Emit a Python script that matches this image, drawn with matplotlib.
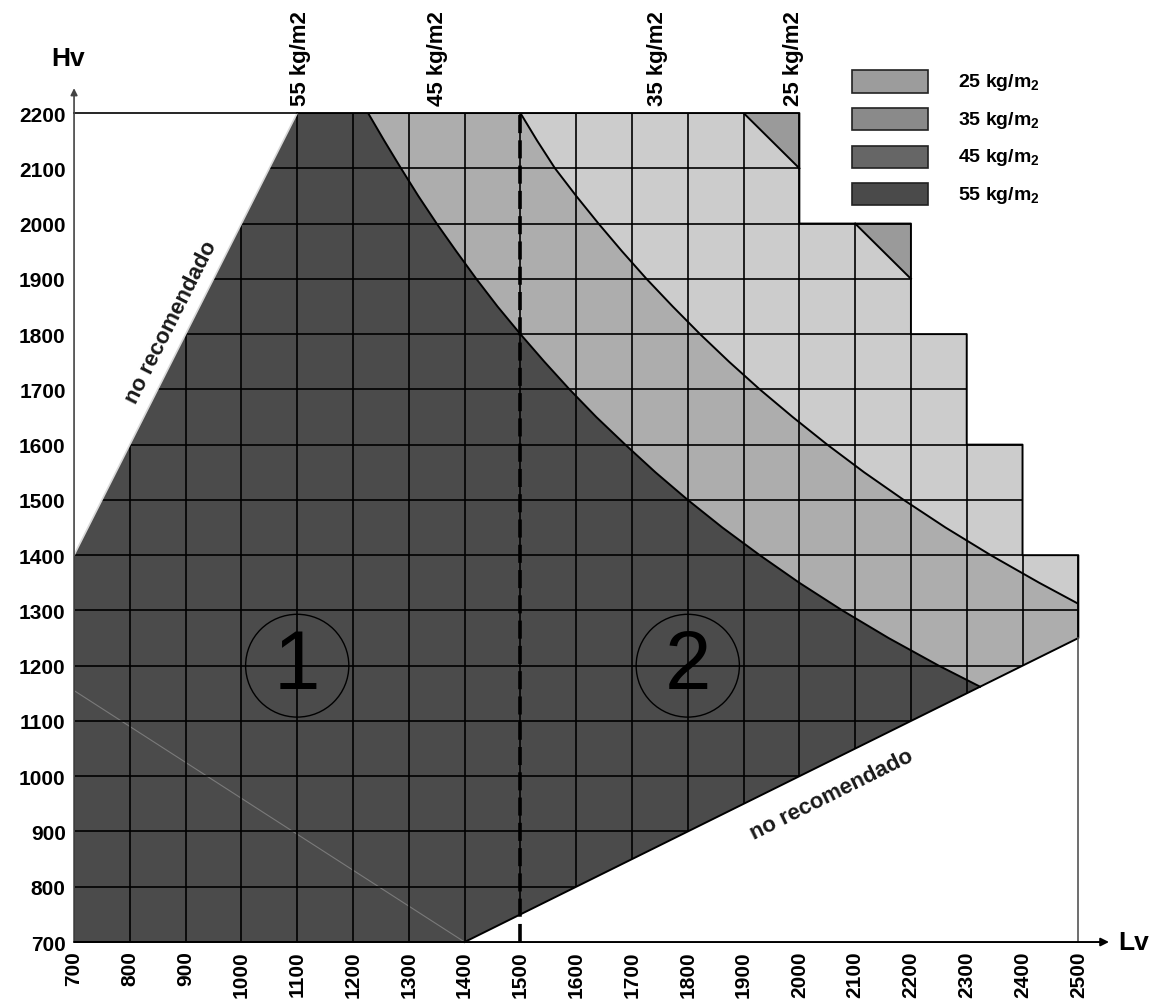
import matplotlib
matplotlib.use("Agg")
import matplotlib.pyplot as plt
from matplotlib.patches import Polygon, Ellipse, Rectangle
from matplotlib import font_manager

plt.rcParams['font.family'] = ['Liberation Sans', 'DejaVu Sans']
plt.rcParams['mathtext.fontset'] = 'custom'
plt.rcParams['mathtext.rm'] = 'Liberation Sans:bold'
plt.rcParams['mathtext.bf'] = 'Liberation Sans:bold'
plt.rcParams['mathtext.default'] = 'bf'

# ejes (Lv = largo, Hv = alto)
lv_ticks = list(range(700, 2600, 100))
hv_ticks = list(range(700, 2300, 100))

# contorno de la zona cuadriculada
zone_lv = [700, 1400, 2500, 2500, 2400, 2400, 2300, 2300, 2200, 2200, 2000, 2000, 1100, 700]
zone_hv = [700, 700, 1250, 1400, 1400, 1600, 1600, 1800, 1800, 2000, 2000, 2200, 2200, 1400]

# limite 55 / 45 kg/m2
c55_lv = [1227, 1256, 1286, 1317, 1350, 1385, 1421, 1459, 1500, 1543, 1588, 1636, 1688,
          1742, 1800, 1862, 1929, 2000, 2077, 2160, 2250, 2324]
c55_hv = [2200, 2150, 2100, 2050, 2000, 1950, 1900, 1850, 1800, 1750, 1700, 1650, 1600,
          1550, 1500, 1450, 1400, 1350, 1300, 1250, 1200, 1162]

# limite 45 / 35 kg/m2
c45_lv = [1500, 1530, 1562, 1600, 1640, 1682, 1726, 1773, 1822, 1874, 1929, 1988, 2050,
          2116, 2187, 2262, 2343, 2430, 2500]
c45_hv = [2200, 2150, 2100, 2050, 2000, 1950, 1900, 1850, 1800, 1750, 1700, 1650, 1600,
          1550, 1500, 1450, 1400, 1350, 1312]

# esquinas 25 kg/m2
tri1_lv = [1900, 2000, 2000]
tri1_hv = [2200, 2200, 2100]
tri2_lv = [2100, 2200, 2200]
tri2_hv = [2000, 2000, 1900]

# trazo fino claro dentro de la zona oscura
faint_lv = [700, 1400]
faint_hv = [1155, 700]

# etiquetas superiores
top_labels = ['55 kg/m2', '45 kg/m2', '35 kg/m2', '25 kg/m2']
top_lv = [1105, 1352, 1745, 1989]

legend_labels = ['25 kg/m$_2$', '35 kg/m$_2$', '45 kg/m$_2$', '55 kg/m$_2$']
legend_colors = ['#9c9c9c', '#8a8a8a', '#666666', '#4a4a4a']

zones = ['1', '2']
zone_center_lv = [1100, 1800]
zone_center_hv = [1200, 1200]

C_DARK = '#4b4b4b'
C_MID = '#adadad'
C_LIGHT = '#cccccc'
C_TRI = '#9a9a9a'

fig = plt.figure(figsize=(11.57, 10.03), dpi=100)
ax = fig.add_axes([0.064, 0.0598, 0.868, 0.8265])
ax.set_xlim(700, 2500)
ax.set_ylim(700, 2200)
for s in ax.spines.values():
    s.set_visible(False)

# fondo claro (35 kg/m2)
zone = Polygon(list(zip(zone_lv, zone_hv)), closed=True, facecolor=C_LIGHT, edgecolor='none', zorder=1)
ax.add_patch(zone)

# zona 45 kg/m2
mid_pts = [(700, 700), (1400, 700), (2500, 1250)] + list(zip(c45_lv[::-1], c45_hv[::-1])) + [(1100, 2200), (700, 1400)]
ax.add_patch(Polygon(mid_pts, closed=True, facecolor=C_MID, edgecolor='none', zorder=2))

# zona 55 kg/m2
dark_pts = [(700, 700), (1400, 700)] + list(zip(c55_lv[::-1], c55_hv[::-1])) + [(1100, 2200), (700, 1400)]
ax.add_patch(Polygon(dark_pts, closed=True, facecolor=C_DARK, edgecolor='none', zorder=3))
ax.plot(faint_lv, faint_hv, color='#7a7a7a', lw=0.8, zorder=3.5)

for tl, th in [(tri1_lv, tri1_hv), (tri2_lv, tri2_hv)]:
    ax.add_patch(Polygon(list(zip(tl, th)), closed=True, facecolor=C_TRI, edgecolor='none', zorder=3))
    ax.plot([tl[0], tl[2]], [th[0], th[2]], color='black', lw=1.4, zorder=6)

# cuadricula recortada a la zona
vl = ax.vlines(lv_ticks, 700, 2200, colors='black', lw=1.2, zorder=4)
hl = ax.hlines(hv_ticks, 700, 2500, colors='black', lw=1.2, zorder=4)
vl.set_clip_path(zone)
hl.set_clip_path(zone)

# curvas limite
ax.plot(c55_lv, c55_hv, color='black', lw=1.4, zorder=6)
ax.plot(c45_lv, c45_hv, color='black', lw=1.4, zorder=6)

# contorno
ax.plot(zone_lv[1:13], zone_hv[1:13], color='black', lw=1.4, zorder=6, clip_on=False)
ax.plot([1100, 700], [2200, 1400], color='#d8d8d8', lw=1.2, zorder=6)

# linea de separacion 1 / 2
ax.plot([1500, 1500], [700, 2200], color='black', lw=2.6, ls=(0, (5, 2)), zorder=7, clip_on=False)

# ejes con flechas
ax.plot([700, 1100], [2200, 2200], color='black', lw=1.2, zorder=6, clip_on=False)
ax.plot([2500, 2500], [700, 1250], color='#555555', lw=1.2, zorder=6, clip_on=False)
ax.annotate('', xy=(700, 2245), xytext=(700, 700), annotation_clip=False,
            arrowprops=dict(arrowstyle='-|>', color='#444444', lw=1.2, mutation_scale=10, shrinkA=0, shrinkB=0), zorder=8)
ax.annotate('', xy=(2555, 700), xytext=(700, 700), annotation_clip=False,
            arrowprops=dict(arrowstyle='-|>', color='black', lw=1.4, mutation_scale=12, shrinkA=0, shrinkB=0), zorder=8)

ax.set_xticks(lv_ticks)
ax.set_yticks(hv_ticks)
ax.set_xticklabels([str(v) for v in lv_ticks], rotation=90, fontsize=15, fontweight='bold')
ax.set_yticklabels([str(v) for v in hv_ticks], fontsize=15, fontweight='bold')
ax.tick_params(length=0, pad=6)

ax.text(690, 2300, 'Hv', fontsize=19, fontweight='bold', ha='center', va='center', clip_on=False)
ax.text(2600, 700, 'Lv', fontsize=19, fontweight='bold', ha='center', va='center', clip_on=False)

for lab, x in zip(top_labels, top_lv):
    ax.text(x, 2215, lab, rotation=90, fontsize=16, fontweight='bold', ha='center', va='bottom', clip_on=False)

# leyenda
for i, (lab, col) in enumerate(zip(legend_labels, legend_colors)):
    yc = 2257 - i * 68
    ax.add_patch(Rectangle((2094, yc - 20), 136, 40, facecolor=col, edgecolor='#222222', lw=1.2,
                           clip_on=False, zorder=8))
    ax.text(2284, yc, lab, fontsize=14, fontweight='bold', ha='left', va='center', clip_on=False)

# no recomendado
ax.text(874, 1823, 'no recomendado', rotation=63.2, rotation_mode='anchor', fontsize=16,
        fontweight='bold', color='#1a1a1a', ha='center', va='center')
ax.text(2058, 968, 'no recomendado', rotation=26.4, rotation_mode='anchor', fontsize=16,
        fontweight='bold', color='#1a1a1a', ha='center', va='center')

names = {f.name for f in font_manager.fontManager.ttflist}
num_font = 'Liberation Sans Narrow' if 'Liberation Sans Narrow' in names else 'Liberation Sans'
for lab, x, y in zip(zones, zone_center_lv, zone_center_hv):
    ax.add_patch(Ellipse((x, y), 185, 186, facecolor='none', edgecolor='black', lw=1.0, zorder=7))
    ax.text(x, y, lab, fontsize=60, family=num_font, ha='center', va='center', zorder=8)

fig.savefig('out.png', dpi=100)
